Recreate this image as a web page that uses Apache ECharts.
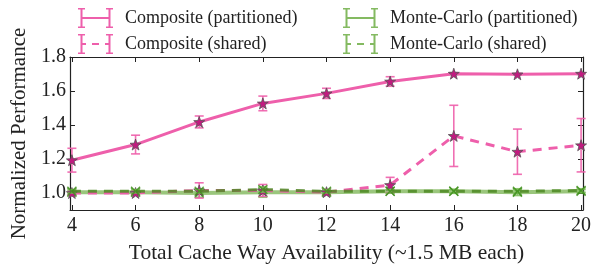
<!DOCTYPE html>
<html>
<head>
<meta charset="utf-8">
<script src="https://cdn.jsdelivr.net/npm/echarts@6/dist/echarts.min.js"></script>
<style>
  html, body { margin: 0; padding: 0; background: #fff; }
  #chart { width: 601px; height: 269px; }
</style>
</head>
<body>
<div id="chart"></div>
<script>
// cache ways on the x axis
const ways = [4, 6, 8, 10, 12, 14, 16, 18, 20];
const xTicks = [4, 6, 8, 10, 12, 14, 16, 18, 20];
const yTicks = [1.0, 1.2, 1.4, 1.6, 1.8];

// mean and error (+/-) per series
const compPart = [1.193, 1.285, 1.418, 1.527, 1.586, 1.656, 1.702, 1.698, 1.702];
const compPartErr = [0.07, 0.055, 0.035, 0.043, 0.03, 0.028, 0.006, 0.005, 0.005];
const compShared = [1.0, 1.0, 1.015, 1.015, 1.005, 1.047, 1.336, 1.243, 1.281];
const compSharedErr = [0.01, 0.01, 0.045, 0.035, 0.015, 0.045, 0.18, 0.133, 0.157];
const mcPart = [1.005, 1.005, 1.0, 1.005, 1.005, 1.01, 1.01, 1.005, 1.01];
const mcPartErr = [0.01, 0.01, 0.025, 0.03, 0.01, 0.01, 0.012, 0.02, 0.01];
const mcShared = [1.01, 1.01, 1.01, 1.02, 1.01, 1.01, 1.01, 1.01, 1.015];
const mcSharedErr = [0.01, 0.01, 0.01, 0.015, 0.01, 0.01, 0.01, 0.01, 0.01];

const PINK = '#ee5fab';
const GREEN = '#6fae45';
const FONT = 'Liberation Serif';

const STAR = 'path://M0,-10 L2.35,-3.24 L9.51,-3.09 L3.8,1.24 L5.88,8.09 L0,4 L-5.88,8.09 L-3.8,1.24 L-9.51,-3.09 L-2.35,-3.24 Z';
const XMARK = 'path://M-5,-4 L-4,-5 L0,-1 L4,-5 L5,-4 L1,0 L5,4 L4,5 L0,1 L-4,5 L-5,4 L-1,0 Z';

// legend glyphs: line with two capped error bars
const ICON_SOLID = 'path://M0,0 H7 V1.5 H4.5 V9 H30.5 V1.5 H28 V0 H35 V1.5 H32.5 V18.5 H35 V20 H28 V18.5 H30.5 V11 H4.5 V18.5 H7 V20 H0 V18.5 H2.5 V1.5 H0 Z';
const ICON_DASH = 'path://M0,0 H7 V1.5 H4.5 V9 H8 V11 H4.5 V18.5 H7 V20 H0 V18.5 H2.5 V1.5 H0 Z M14,9 H21 V11 H14 Z M28,0 H35 V1.5 H32.5 V18.5 H35 V20 H28 V18.5 H30.5 V11 H27 V9 H30.5 V1.5 H28 Z';

function pairs(vals) {
  return ways.map((x, i) => [x, vals[i]]);
}
function bars(vals, errs) {
  return ways.map((x, i) => [x, vals[i] - errs[i], vals[i] + errs[i]]);
}
function errSeries(vals, errs, color, opacity, z) {
  return {
    type: 'custom',
    name: 'err',
    silent: true,
    z: z,
    clip: false,
    data: bars(vals, errs),
    encode: { x: 0, y: [1, 2] },
    renderItem: function (params, api) {
      const x = api.value(0);
      const top = api.coord([x, api.value(2)]);
      const bot = api.coord([x, api.value(1)]);
      const w = 4.5;
      const style = { stroke: color, lineWidth: 1.6, opacity: opacity };
      return {
        type: 'group',
        children: [
          { type: 'line', shape: { x1: top[0], y1: top[1], x2: bot[0], y2: bot[1] }, style: style },
          { type: 'line', shape: { x1: top[0] - w, y1: top[1], x2: top[0] + w, y2: top[1] }, style: style },
          { type: 'line', shape: { x1: bot[0] - w, y1: bot[1], x2: bot[0] + w, y2: bot[1] }, style: style }
        ]
      };
    }
  };
}

const chart = echarts.init(document.getElementById('chart'));
const option = {
  animation: false,
  textStyle: { fontFamily: FONT },
  grid: { left: 70, right: 18, top: 57, bottom: 55 },
  legend: [
    {
      left: 73, top: 3, orient: 'vertical',
      itemWidth: 35, itemHeight: 20, itemGap: 6,
      textStyle: { fontFamily: FONT, fontSize: 18, color: '#222', padding: [0, 0, 0, 7] },
      data: [
        { name: 'Composite (partitioned)', icon: ICON_SOLID, itemStyle: { color: PINK, borderWidth: 0 } },
        { name: 'Composite (shared)', icon: ICON_DASH, itemStyle: { color: PINK, borderWidth: 0 } }
      ]
    },
    {
      left: 338, top: 3, orient: 'vertical',
      itemWidth: 35, itemHeight: 20, itemGap: 6,
      textStyle: { fontFamily: FONT, fontSize: 18, color: '#222', padding: [0, 0, 0, 7] },
      data: [
        { name: 'Monte-Carlo (partitioned)', icon: ICON_SOLID, itemStyle: { color: GREEN, borderWidth: 0, opacity: 0.85 } },
        { name: 'Monte-Carlo (shared)', icon: ICON_DASH, itemStyle: { color: GREEN, borderWidth: 0, opacity: 0.85 } }
      ]
    }
  ],
  xAxis: [
    {
      type: 'value', min: 3.94, max: 20.06,
      name: 'Total Cache Way Availability (~1.5 MB each)',
      nameLocation: 'middle', nameGap: 32,
      nameTextStyle: { fontFamily: FONT, fontSize: 21.5, color: '#222' },
      axisLine: { show: true, lineStyle: { color: '#222', width: 1.2 } },
      axisTick: { show: true, inside: true, length: 5, customValues: xTicks, lineStyle: { color: '#222' } },
      axisLabel: { customValues: xTicks, margin: 6, fontFamily: FONT, fontSize: 20, color: '#222' },
      splitLine: { show: false }
    },
    {
      type: 'value', min: 3.94, max: 20.06, position: 'top',
      axisLine: { show: true, lineStyle: { color: '#222', width: 1.2 } },
      axisTick: { show: true, inside: true, length: 5, customValues: xTicks, lineStyle: { color: '#222' } },
      axisLabel: { show: false },
      splitLine: { show: false }
    }
  ],
  yAxis: [
    {
      type: 'value', min: 0.9, max: 1.8,
      name: 'Normalized Performance',
      nameLocation: 'middle', nameGap: 37,
      nameTextStyle: { fontFamily: FONT, fontSize: 21, color: '#222' },
      axisLine: { show: true, lineStyle: { color: '#222', width: 1.2 } },
      axisTick: { show: true, inside: true, length: 5, customValues: yTicks, lineStyle: { color: '#222' } },
      axisLabel: {
        customValues: yTicks, margin: 4, fontFamily: FONT, fontSize: 20, color: '#222',
        formatter: v => v.toFixed(1)
      },
      splitLine: { show: false }
    },
    {
      type: 'value', min: 0.9, max: 1.8, position: 'right',
      axisLine: { show: true, lineStyle: { color: '#222', width: 1.2 } },
      axisTick: { show: true, inside: true, length: 5, customValues: yTicks, lineStyle: { color: '#222' } },
      axisLabel: { show: false },
      splitLine: { show: false }
    }
  ],
  series: [
    {
      name: 'Monte-Carlo (partitioned)', type: 'line', z: 2,
      data: pairs(mcPart),
      symbol: XMARK, symbolSize: 10,
      itemStyle: { color: '#3f8f1c', opacity: 0.8 },
      lineStyle: { color: GREEN, width: 4, opacity: 0.7 }
    },
    errSeries(mcPart, mcPartErr, '#78bb55', 0.8, 2),
    {
      name: 'Composite (shared)', type: 'line', z: 3,
      data: pairs(compShared),
      symbol: STAR, symbolSize: 11,
      itemStyle: { color: '#c21a80', borderColor: '#555', borderWidth: 0.8 },
      lineStyle: { color: PINK, width: 3, type: [9, 7] }
    },
    errSeries(compShared, compSharedErr, PINK, 0.9, 3),
    {
      name: 'Monte-Carlo (shared)', type: 'line', z: 4,
      data: pairs(mcShared),
      symbol: XMARK, symbolSize: 10,
      itemStyle: { color: '#3f8f1c', opacity: 0.8 },
      lineStyle: { color: '#4f8a25', width: 3, type: [9, 7], opacity: 0.85 }
    },
    errSeries(mcShared, mcSharedErr, '#78bb55', 0.8, 4),
    {
      name: 'Composite (partitioned)', type: 'line', z: 5,
      data: pairs(compPart),
      symbol: STAR, symbolSize: 11,
      itemStyle: { color: '#c21a80', borderColor: '#555', borderWidth: 0.8 },
      lineStyle: { color: PINK, width: 3 }
    },
    errSeries(compPart, compPartErr, PINK, 0.9, 5)
  ]
};
chart.setOption(option);
</script>
</body>
</html>
